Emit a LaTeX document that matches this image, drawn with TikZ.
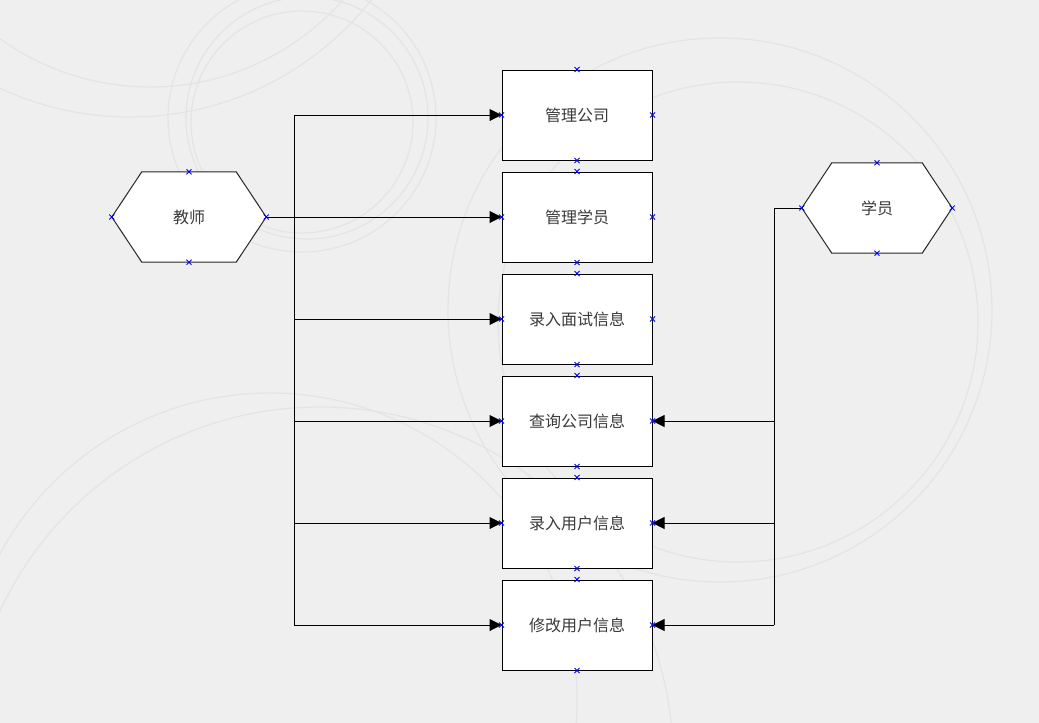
\documentclass[tikz,border=0pt]{standalone}
\usepackage{fontspec}
\newfontfamily\cjk{Noto Sans CJK SC}
\usetikzlibrary{arrows.meta,calc}
\pgfdeclarelayer{bgA}
\pgfdeclarelayer{bgB}
\pgfsetlayers{bgA,bgB,main}
\definecolor{bgcol}{HTML}{EFEFEF}
\definecolor{circcol}{HTML}{E4E4E4}
\definecolor{txtcol}{HTML}{3A3A3A}
\tikzset{
  box/.style={draw=black, fill=white, line width=1pt, minimum width=150pt, minimum height=90pt, inner sep=0pt, font=\cjk\fontsize{16}{16}\selectfont, text=txtcol},
  hexnode/.style={minimum height=90pt, inner sep=0pt, font=\cjk\fontsize{16}{16}\selectfont, text=txtcol},
  hexline/.style={draw=black!85, fill=white, line width=1pt},
  conn/.style={draw=black, line width=1pt},
  arr/.style={conn, -{Triangle[length=12pt,width=12pt]}},
  deco/.style={draw=circcol, line width=1.2pt},
  pin/.style={draw=blue, line width=0.8pt}
}
\newcommand{\xmark}[1]{\draw[pin] ($(#1)+(-2.5,-2.5)$) -- ($(#1)+(2.5,2.5)$) ($(#1)+(-2.5,2.5)$) -- ($(#1)+(2.5,-2.5)$);}
\begin{document}
\begin{tikzpicture}[x=1pt,y=-1pt]
\begin{pgfonlayer}{bgA}
\fill[bgcol] (0,0) rectangle (1039,723);
\begin{scope}
\clip (0,0) rectangle (1039,723);
\draw[deco] (302,118) circle (134);
\draw[deco] (307,118) circle (121);
\draw[deco] (302,122) circle (111);
\draw[deco] (150,-170) circle (257);
\draw[deco] (130,-190) circle (307);
\draw[deco] (720,310) circle (272);
\draw[deco] (738,322) circle (240);
\draw[deco] (270,700) circle (307);
\draw[deco] (320,760) circle (353);
\end{scope}
\end{pgfonlayer}

% nodes
\node[box] (r1) at (577,115) {管理公司};
\node[box] (r2) at (577,217) {管理学员};
\node[box] (r3) at (577,319) {录入面试信息};
\node[box] (r4) at (577,421) {查询公司信息};
\node[box] (r5) at (577,523) {录入用户信息};
\node[box] (r6) at (577,625) {修改用户信息};
\node[hexnode, minimum width=154pt] (t) at (189,217) {教师};
\node[hexnode, minimum width=150pt] (s) at (877,208) {学员};

\begin{pgfonlayer}{bgB}
\path[hexline] (t.west) -- ([xshift=30pt]t.north west) -- ([xshift=-30pt]t.north east) -- (t.east) -- ([xshift=-30pt]t.south east) -- ([xshift=30pt]t.south west) -- cycle;
\path[hexline] (s.west) -- ([xshift=30pt]s.north west) -- ([xshift=-30pt]s.north east) -- (s.east) -- ([xshift=-30pt]s.south east) -- ([xshift=30pt]s.south west) -- cycle;
\end{pgfonlayer}

% bus coordinates
\coordinate (tb1) at (294,115);
\coordinate (tb2) at (294,625);
\coordinate (sb0) at (774,208);
\coordinate (sb2) at (774,625);

% teacher connectors
\draw[conn] (tb1) -- (tb2);
\draw[arr] (t.east) -- (r2.west);
\draw[arr] (tb1) -- (r1.west);
\draw[arr] (r3.west -| tb1) -- (r3.west);
\draw[arr] (r4.west -| tb1) -- (r4.west);
\draw[arr] (r5.west -| tb1) -- (r5.west);
\draw[arr] (r6.west -| tb1) -- (r6.west);

% student connectors
\draw[conn] (s.west) -- (sb0) -- (sb2);
\draw[arr] (r4.east -| sb0) -- (r4.east);
\draw[arr] (r5.east -| sb0) -- (r5.east);
\draw[arr] (r6.east -| sb0) -- (r6.east);

% connection point marks
\foreach \n in {r1,r2,r3,r4,r5,r6,t,s}{
  \xmark{\n.north}\xmark{\n.south}\xmark{\n.east}\xmark{\n.west}
}
\end{tikzpicture}
\end{document}
